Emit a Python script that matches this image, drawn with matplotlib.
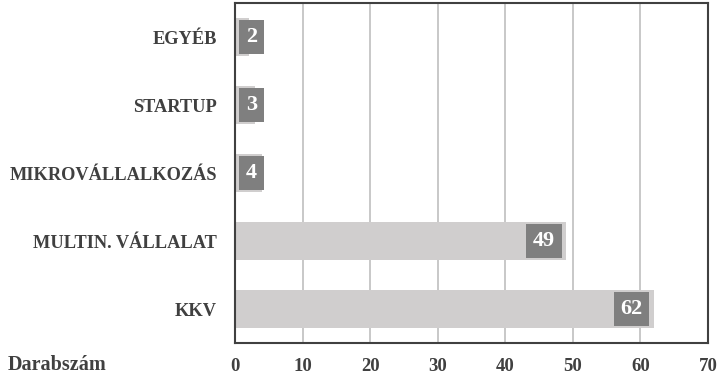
import matplotlib.pyplot as plt

# Data (top to bottom as shown)
categories = ['EGYÉB', 'STARTUP', 'MIKROVÁLLALKOZÁS', 'MULTIN. VÁLLALAT', 'KKV']
values = [2, 3, 4, 49, 62]
xticks = [0, 10, 20, 30, 40, 50, 60, 70]

plt.rcParams['font.family'] = ['Liberation Serif', 'DejaVu Serif']

fig = plt.figure(figsize=(7.21, 3.75), dpi=100)
ax = fig.add_axes([235 / 721, 32 / 375, 473 / 721, 340 / 375])

ypos = list(range(len(categories)))[::-1]
ax.barh(ypos, values, height=0.56, color='#d0cece', zorder=2)

# value labels in dark boxes
box = dict(boxstyle='square,pad=0.3', fc='#7f7f7f', ec='none')
for y, v in zip(ypos, values):
    if v < 10:
        ax.annotate(str(v), xy=(0, y), xytext=(8, 0), textcoords='offset points',
                    ha='left', va='center', color='white', fontsize=16, fontweight='bold',
                    bbox=box, zorder=3)
    else:
        ax.annotate(str(v), xy=(v, y), xytext=(-8, 0), textcoords='offset points',
                    ha='right', va='center', color='white', fontsize=16, fontweight='bold',
                    bbox=box, zorder=3)

ax.set_xlim(0, 70)
ax.set_ylim(-0.5, len(categories) - 0.5)
ax.set_xticks(xticks)
ax.set_yticks(ypos)
ax.set_yticklabels(categories, fontsize=13.2, fontweight='bold', color='#404040')
ax.set_xticklabels([str(t) for t in xticks], fontsize=13.5, fontweight='bold', color='#404040')
ax.tick_params(length=0)
ax.tick_params(axis='x', pad=11)
ax.tick_params(axis='y', pad=13)

ax.grid(axis='x', color='#bfbfbf', linewidth=1.2, zorder=1)
for s in ax.spines.values():
    s.set_color('#404040')
    s.set_linewidth(1.5)

fig.text(8 / 721, 1 - 365 / 375, 'Darabszám', fontsize=14.5, fontweight='bold',
         color='#404040', va='center', ha='left')

fig.savefig('out.png', dpi=100)
